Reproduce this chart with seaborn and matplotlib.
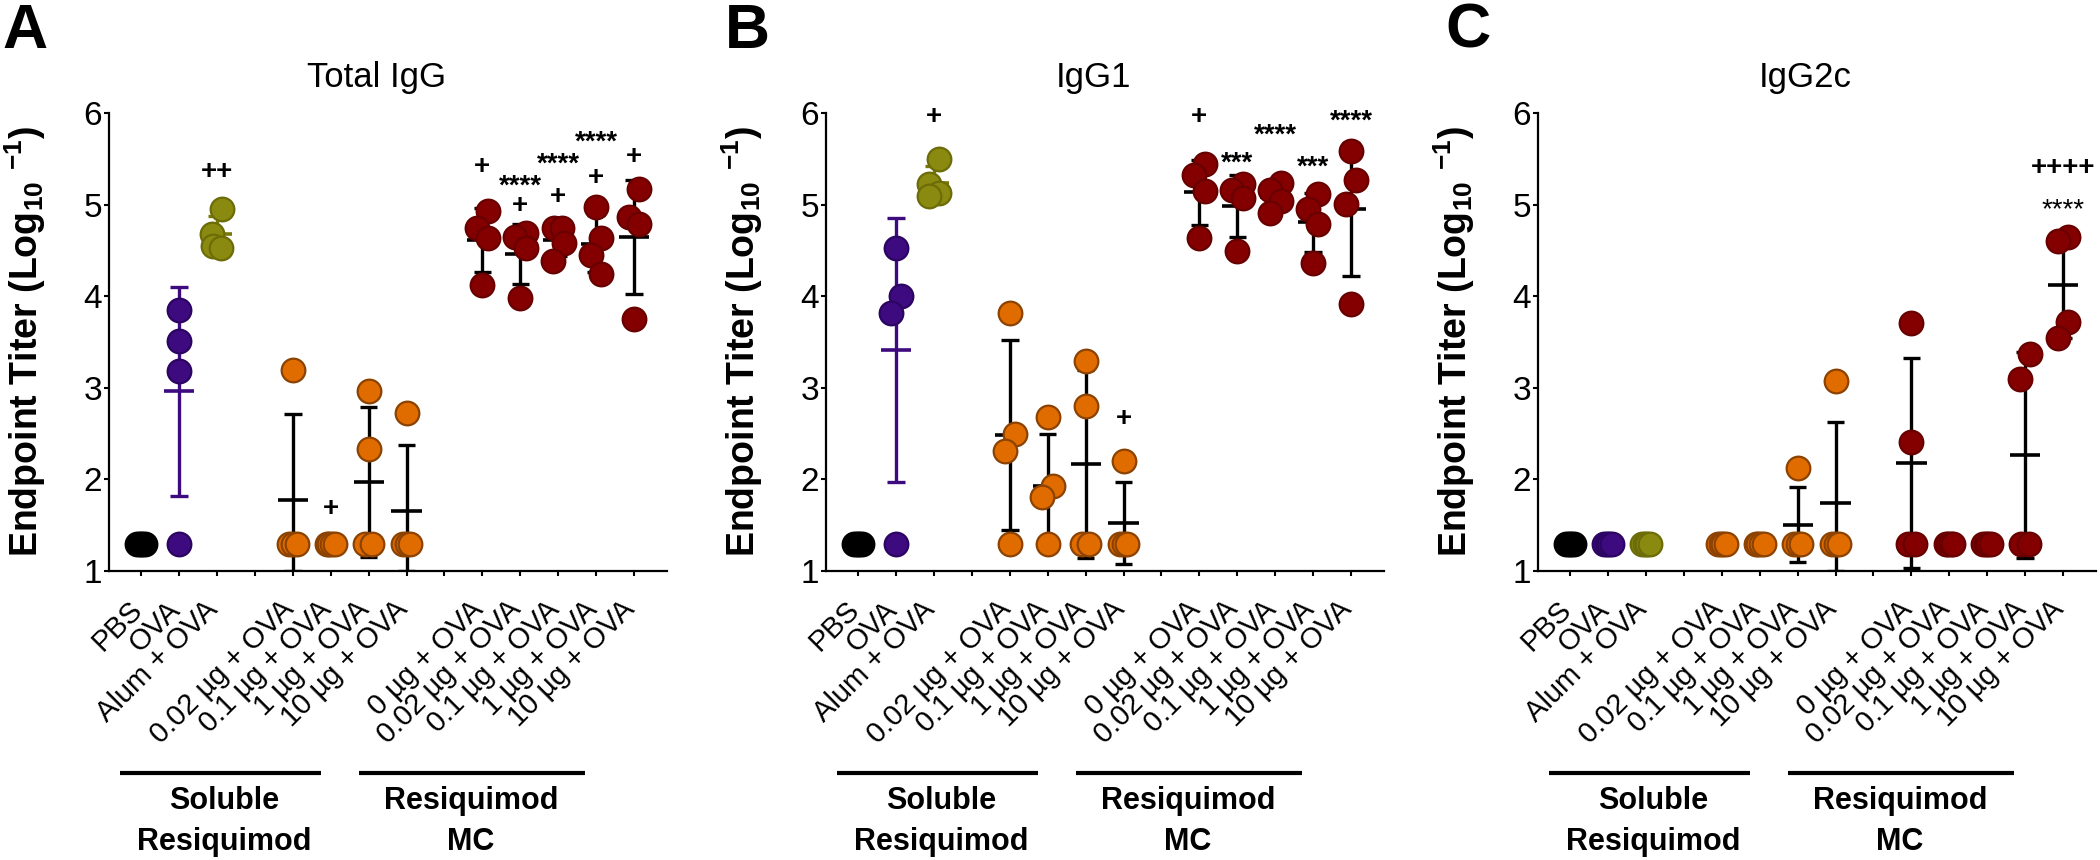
import numpy as np
import pandas as pd
import matplotlib
matplotlib.use("Agg")
import matplotlib.pyplot as plt
import seaborn as sns
from matplotlib.transforms import ScaledTranslation, blended_transform_factory

sns.set_theme(style="ticks")
plt.rcParams["font.family"] = ["Liberation Sans", "DejaVu Sans"]
plt.rcParams["mathtext.fontset"] = "custom"
plt.rcParams["mathtext.rm"] = "Liberation Sans"
plt.rcParams["mathtext.bf"] = "Liberation Sans:bold"
for key in ["text.color", "axes.labelcolor", "xtick.color", "ytick.color", "axes.edgecolor"]:
    plt.rcParams[key] = "black"

# ---------------- data ----------------
tick_labels = ["PBS", "OVA", "Alum + OVA", "",
               "0.02 µg + OVA", "0.1 µg + OVA", "1 µg + OVA", "10 µg + OVA", "",
               "0 µg + OVA", "0.02 µg + OVA", "0.1 µg + OVA", "1 µg + OVA", "10 µg + OVA"]
group_kind = ["PBS", "OVA", "Alum", "Sol", "Sol", "Sol", "Sol", "MC", "MC", "MC", "MC", "MC"]
panel_titles = ["Total IgG", "IgG1", "IgG2c"]
panel_letters = ["A", "B", "C"]

total_igg = [[1.3, 1.3, 1.3, 1.3], [3.85, 3.51, 3.18, 1.3], [4.95, 4.68, 4.55, 4.53],
             [3.19, 1.3, 1.3, 1.3], [1.3, 1.3, 1.3, 1.3], [2.96, 2.33, 1.3, 1.3], [2.73, 1.3, 1.3, 1.3],
             [4.93, 4.75, 4.64, 4.12], [4.69, 4.65, 4.53, 3.98], [4.75, 4.75, 4.58, 4.38],
             [4.97, 4.64, 4.45, 4.24], [5.17, 4.87, 4.79, 3.75]]
igg1 = [[1.3, 1.3, 1.3, 1.3], [4.53, 4.0, 3.82, 1.3], [5.5, 5.22, 5.13, 5.09],
        [3.82, 2.5, 2.31, 1.3], [2.68, 1.93, 1.81, 1.3], [3.29, 2.8, 1.3, 1.3], [2.2, 1.3, 1.3, 1.3],
        [5.44, 5.32, 5.15, 4.63], [5.22, 5.16, 5.07, 4.49], [5.24, 5.16, 5.04, 4.91],
        [5.12, 4.95, 4.79, 4.36], [5.59, 5.27, 5.01, 3.92]]
igg2c = [[1.3, 1.3, 1.3, 1.3], [1.3, 1.3, 1.3, 1.3], [1.3, 1.3, 1.3, 1.3],
         [1.3, 1.3, 1.3, 1.3], [1.3, 1.3, 1.3, 1.3], [2.12, 1.3, 1.3, 1.3], [3.07, 1.3, 1.3, 1.3],
         [3.71, 2.41, 1.3, 1.3], [1.3, 1.3, 1.3, 1.3], [1.3, 1.3, 1.3, 1.3],
         [3.37, 3.1, 1.3, 1.3], [4.65, 4.6, 3.72, 3.54]]

# significance marks: (text, tick slot, level, bold)
total_igg_marks = [("++", 2, 5.37, True), ("+", 5, 1.69, True),
                   ("+", 9, 5.43, True),
                   ("****", 10, 5.29, True), ("+", 10, 5.0, True),
                   ("****", 11, 5.53, True), ("+", 11, 5.1, True),
                   ("****", 12, 5.77, True), ("+", 12, 5.31, True),
                   ("****", 13, 6.05, True), ("+", 13, 5.53, True)]
igg1_marks = [("+", 2, 5.97, True), ("+", 7, 2.68, True), ("+", 9, 5.97, True),
              ("***", 10, 5.55, True), ("****", 11, 5.85, True),
              ("***", 12, 5.50, True), ("****", 13, 6.0, True)]
igg2c_marks = [("++++", 13, 5.42, True), ("****", 13, 5.04, False)]

# ---------------- style ----------------
fills = {"PBS": "#000000", "OVA": "#3e0a80", "Alum": "#8a8a10", "Sol": "#e06c00", "MC": "#840000"}
edges = {"PBS": "#000000", "OVA": "#2c0562", "Alum": "#6c6c08", "Sol": "#8c4200", "MC": "#680000"}
bar_col = {"PBS": "#000000", "OVA": "#3e0a80", "Alum": "#7a7a0c", "Sol": "#000000", "MC": "#000000"}

W, H = 2100, 860
fig = plt.figure(figsize=(W / 100, H / 100), dpi=100)
ax_lefts = [109, 826, 1538]
ax_w = 558
y_top, y_bot = 113, 571
slots = [i for i, t in enumerate(tick_labels) if t]


def offsets(vals):
    vals = np.asarray(vals, float)
    n = len(vals)
    off = np.zeros(n)
    order = np.argsort(-vals, kind="stable")
    used = np.zeros(n, bool)
    sign = 1
    for idx in order:
        if used[idx]:
            continue
        same = [j for j in order if not used[j] and abs(vals[j] - vals[idx]) < 0.02]
        if len(same) > 1:
            off[same] = np.linspace(-0.1, 0.1, len(same))
            used[same] = True
            continue
        near = [j for j in range(n) if j != idx and abs(vals[j] - vals[idx]) < 0.3]
        if near:
            off[idx] = 0.14 * sign
            sign = -sign
        used[idx] = True
    return off


for k, (data, marks) in enumerate(zip([total_igg, igg1, igg2c],
                                      [total_igg_marks, igg1_marks, igg2c_marks])):
    ax = fig.add_axes([ax_lefts[k] / W, 1 - y_bot / H, ax_w / W, (y_bot - y_top) / H])
    rows = []
    for g, (slot, vals) in enumerate(zip(slots, data)):
        off = offsets(vals)
        for v, o in zip(vals, off):
            rows.append({"x": slot + o, "y": v, "kind": group_kind[g]})
        m = np.mean(vals)
        sd = np.std(vals, ddof=1)
        c = bar_col[group_kind[g]]
        if sd > 0:
            lo, hi = max(m - sd, 1.0), m + sd
            ax.vlines(slot, lo, hi, color=c, lw=2.4, zorder=2)
            ax.hlines([lo, hi], slot - 0.23, slot + 0.23, color=c, lw=2.4, zorder=2)
        ax.hlines(m, slot - 0.4, slot + 0.4, color=c, lw=2.6, zorder=2)
    df = pd.DataFrame(rows)
    for kind in ["PBS", "OVA", "Alum", "Sol", "MC"]:
        sub = df[df["kind"] == kind]
        sns.scatterplot(data=sub, x="x", y="y", ax=ax, color=fills[kind], edgecolor=edges[kind],
                        linewidth=1.6, s=290, zorder=3, legend=False, clip_on=False)

    for txt, slot, lvl, bold in marks:
        dy = -6.5 if "*" in txt else -1.0
        ax.annotate(txt, (slot, lvl), xytext=(0, dy), textcoords="offset points",
                    ha="center", va="center", fontsize=20,
                    fontweight="bold" if bold else "normal", color="black", zorder=4)

    ax.set_xlim(-0.85, 13.87)
    ax.set_ylim(1, 6)
    ax.set_yticks([1, 2, 3, 4, 5, 6])
    ax.set_yticklabels(["1", "2", "3", "4", "5", "6"])
    ax.set_xticks(range(len(tick_labels)))
    ax.set_xticklabels(tick_labels)
    ax.set_xlabel("")
    ax.set_ylabel("")
    sns.despine(ax=ax)
    for sp in ["left", "bottom"]:
        ax.spines[sp].set_linewidth(1.6)
        ax.spines[sp].set_color("black")
    ax.tick_params(axis="both", direction="out", length=3.6, width=1.5, color="black",
                   labelcolor="black")
    ax.tick_params(axis="y", labelsize=24, pad=1.5)
    ax.tick_params(axis="x", labelsize=21, pad=21)
    shift = ScaledTranslation(-3.5 / 100, 0, fig.dpi_scale_trans)
    for lab in ax.get_xticklabels():
        lab.set_rotation(45)
        lab.set_ha("right")
        lab.set_va("center")
        lab.set_rotation_mode("anchor")
        lab.set_transform(lab.get_transform() + shift)

    tr = blended_transform_factory(ax.transData, ax.transAxes)
    ax.plot([-0.57, 4.73], [-0.441, -0.441], transform=tr, color="black", lw=3,
            clip_on=False, solid_capstyle="butt")
    ax.plot([5.75, 11.7], [-0.441, -0.441], transform=tr, color="black", lw=3,
            clip_on=False, solid_capstyle="butt")
    for xc, l1, l2 in [(2.2, "Soluble", "Resiquimod"), (8.7, "Resiquimod", "MC")]:
        ax.text(xc, -0.520, l1, transform=tr, ha="center", va="baseline",
                fontsize=22, fontweight="bold")
        ax.text(xc, -0.609, l2, transform=tr, ha="center", va="baseline",
                fontsize=22, fontweight="bold")

    ax.text(6.2, 1.057, panel_titles[k], transform=tr, ha="center", va="baseline", fontsize=25)
    ax.text(-0.15, 0.5, r"Endpoint Titer (Log$_{\mathbf{10}}$ $^{\mathbf{-1}}$)",
            transform=ax.transAxes, rotation=90, ha="center", va="center",
            fontsize=27, fontweight="bold")

for x0, letter in zip([2, 725, 1445], panel_letters):
    fig.text(x0 / W, 1 - 48 / H, letter, ha="left", va="baseline", fontsize=45, fontweight="bold")

fig.savefig("out.png", dpi=100)
